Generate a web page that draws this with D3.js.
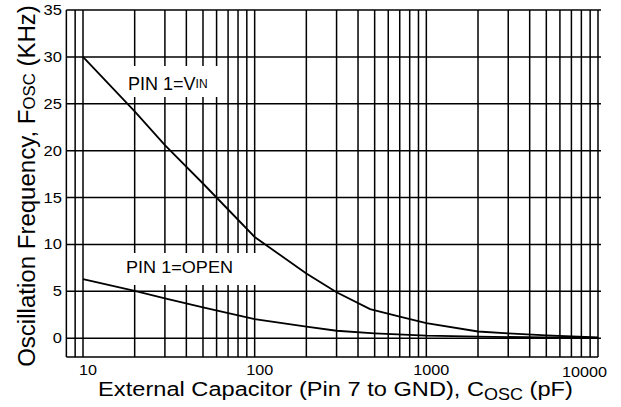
<!DOCTYPE html>
<html><head><meta charset="utf-8">
<script src="https://cdn.jsdelivr.net/npm/d3@7"></script>
<style>body{margin:0;background:#fff}svg{display:block}text{font-family:"Liberation Sans",Arial,sans-serif;fill:#000}</style>
</head><body>
<svg id="c" width="621" height="407"></svg>
<script>
// ---- data ----
const xTickLabels = ["10", "100", "1000", "10000"];
const yTickValues = [0, 5, 10, 15, 20, 25, 30, 35];
const capVin  = [10, 20, 30, 50, 100, 200, 300, 470, 700, 1000, 2000, 3000, 5000, 10000];
const freqVin = [30, 24.2, 20.6, 16.5, 10.8, 6.9, 4.9, 3.1, 2.3, 1.62, 0.72, 0.52, 0.3, 0.08];
const capOpen  = [10, 20, 30, 50, 100, 200, 300, 500, 1000, 2000, 5000, 10000];
const freqOpen = [6.3, 5.05, 4.25, 3.3, 2.05, 1.25, 0.8, 0.53, 0.28, 0.17, 0.08, 0.04];

const svg = d3.select("#c");
const x = d3.scaleLog().domain([10, 10000]).range([83, 598]);
const y = d3.scaleLinear().domain([-2, 35]).range([357, 10]);
const xMin = 8, xMax = 10000;

// vertical grid values
const gridX = [8, 9];
[10, 100, 1000].forEach(d => { for (let k = 1; k <= 9; k++) gridX.push(d * k); });
gridX.push(10000);

const g = svg.append("g");
const lineStyle = s => s.attr("stroke", "#000").attr("stroke-width", 1.5);

g.selectAll("line.v").data(gridX).join("line")
  .attr("x1", d => x(d)).attr("x2", d => x(d))
  .attr("y1", y(35)).attr("y2", y(-2)).call(lineStyle);

g.selectAll("line.h").data(yTickValues).join("line")
  .attr("x1", x(xMin)).attr("x2", x(xMax) + 3)
  .attr("y1", d => y(d)).attr("y2", d => y(d)).call(lineStyle);

g.append("line").attr("x1", x(xMin)).attr("x2", x(xMax))
  .attr("y1", y(-2)).attr("y2", y(-2)).call(lineStyle);

// label boxes
svg.append("rect").attr("x", 123).attr("y", 66).attr("width", 99).attr("height", 31).attr("fill", "#fff");
svg.append("rect").attr("x", 119).attr("y", 253).attr("width", 142).attr("height", 32).attr("fill", "#fff");

// curves
const line = d3.line().x(d => x(d[0])).y(d => y(d[1]));
svg.append("path").datum(d3.zip(capVin, freqVin)).attr("d", line)
  .attr("fill", "none").attr("stroke", "#000").attr("stroke-width", 1.8);
svg.append("path").datum(d3.zip(capOpen, freqOpen)).attr("d", line)
  .attr("fill", "none").attr("stroke", "#000").attr("stroke-width", 1.8);

// curve labels
const t1 = svg.append("text").attr("x", 128).attr("y", 90).attr("font-size", 18);
t1.append("tspan").text("PIN 1=V");
t1.append("tspan").attr("font-size", 12).attr("dy", -2).text("IN");
svg.append("text").attr("x", 126).attr("y", 273).attr("font-size", 16)
  .attr("textLength", 107).attr("lengthAdjust", "spacingAndGlyphs").text("PIN 1=OPEN");

// y tick labels
svg.selectAll("text.yt").data(yTickValues).join("text")
  .attr("x", 62).attr("y", d => y(d) + 5).attr("text-anchor", "end")
  .attr("font-size", 14)
  .attr("textLength", d => String(d).length * 9.2).attr("lengthAdjust", "spacingAndGlyphs")
  .text(d => d);

// x tick labels
svg.selectAll("text.xt").data(xTickLabels).join("text")
  .attr("x", (d, i) => i === xTickLabels.length - 1 ? x(+d) + 9 : x(+d) + 5)
  .attr("y", (d, i) => i === xTickLabels.length - 1 ? 377 : 375)
  .attr("text-anchor", (d, i) => i === xTickLabels.length - 1 ? "end" : "middle")
  .attr("font-size", 14)
  .attr("textLength", d => d.length * 9).attr("lengthAdjust", "spacingAndGlyphs")
  .text(d => d);

// axis titles, scaled to the reference width
function fitText(sel, target, tx, ty, rot) {
  const w = sel.node().getBBox().width || target;
  const s = target / w;
  sel.attr("transform", `translate(${tx},${ty}) rotate(${rot}) scale(${s},1)`);
}
const xt = svg.append("text").attr("text-anchor", "middle").attr("font-size", 21);
xt.append("tspan").text("External Capacitor (Pin 7 to GND), C");
xt.append("tspan").attr("font-size", 16).attr("dy", 4).text("OSC");
xt.append("tspan").attr("dy", -4).text(" (pF)");
fitText(xt, 475, 335.5, 396, 0);

const yt = svg.append("text").attr("text-anchor", "middle").attr("font-size", 23);
yt.append("tspan").text("Oscillation Frequency, F");
yt.append("tspan").attr("font-size", 16).text("OSC");
yt.append("tspan").text(" (KHz)");
fitText(yt, 362, 35, 186, -90);
</script>
</body></html>
